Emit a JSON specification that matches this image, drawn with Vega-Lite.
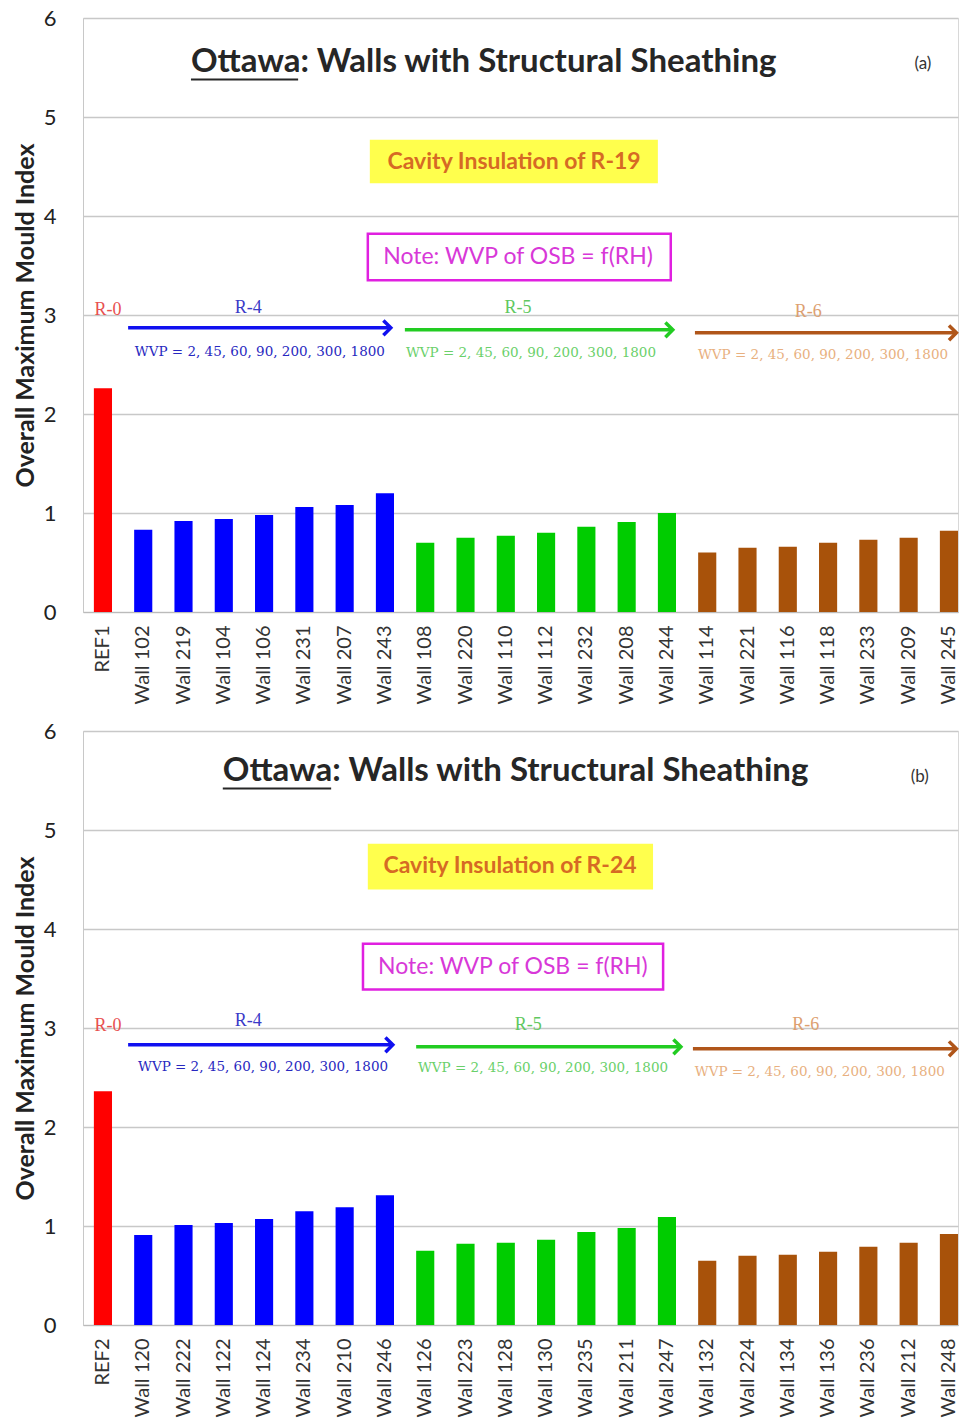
{
  "$schema": "https://vega.github.io/schema/vega-lite/v6.json",
  "background": "white",
  "padding": {"left": 12, "top": 6, "right": 0, "bottom": 0},
  "config": {
    "font": "Lato",
    "view": {"stroke": "#D8D8D8"},
    "axisY": {
      "grid": true, "gridColor": "#C8C8C8", "gridWidth": 1.5,
      "domain": true, "domainColor": "#C8C8C8", "ticks": false,
      "labelFontSize": 22, "labelColor": "#222", "labelPadding": 27,
      "titleFontSize": 25, "titleFontWeight": "bold", "titleColor": "#222", "titlePadding": 5
    },
    "axisX": {
      "labelAngle": -90, "labelFontSize": 20, "labelColor": "#333", "labelPadding": 13,
      "domainColor": "#BBBBBB", "ticks": false, "title": null, "grid": false
    }
  },
  "datasets": {
    "bars_a": [
      {"wall": "REF1", "mould": 2.26, "group": "R-0"},
      {"wall": "Wall 102", "mould": 0.83, "group": "R-4"},
      {"wall": "Wall 219", "mould": 0.92, "group": "R-4"},
      {"wall": "Wall 104", "mould": 0.94, "group": "R-4"},
      {"wall": "Wall 106", "mould": 0.98, "group": "R-4"},
      {"wall": "Wall 231", "mould": 1.06, "group": "R-4"},
      {"wall": "Wall 207", "mould": 1.08, "group": "R-4"},
      {"wall": "Wall 243", "mould": 1.2, "group": "R-4"},
      {"wall": "Wall 108", "mould": 0.7, "group": "R-5"},
      {"wall": "Wall 220", "mould": 0.75, "group": "R-5"},
      {"wall": "Wall 110", "mould": 0.77, "group": "R-5"},
      {"wall": "Wall 112", "mould": 0.8, "group": "R-5"},
      {"wall": "Wall 232", "mould": 0.86, "group": "R-5"},
      {"wall": "Wall 208", "mould": 0.91, "group": "R-5"},
      {"wall": "Wall 244", "mould": 1.0, "group": "R-5"},
      {"wall": "Wall 114", "mould": 0.6, "group": "R-6"},
      {"wall": "Wall 221", "mould": 0.65, "group": "R-6"},
      {"wall": "Wall 116", "mould": 0.66, "group": "R-6"},
      {"wall": "Wall 118", "mould": 0.7, "group": "R-6"},
      {"wall": "Wall 233", "mould": 0.73, "group": "R-6"},
      {"wall": "Wall 209", "mould": 0.75, "group": "R-6"},
      {"wall": "Wall 245", "mould": 0.82, "group": "R-6"}
    ],
    "bars_b": [
      {"wall": "REF2", "mould": 2.36, "group": "R-0"},
      {"wall": "Wall 120", "mould": 0.91, "group": "R-4"},
      {"wall": "Wall 222", "mould": 1.01, "group": "R-4"},
      {"wall": "Wall 122", "mould": 1.03, "group": "R-4"},
      {"wall": "Wall 124", "mould": 1.07, "group": "R-4"},
      {"wall": "Wall 234", "mould": 1.15, "group": "R-4"},
      {"wall": "Wall 210", "mould": 1.19, "group": "R-4"},
      {"wall": "Wall 246", "mould": 1.31, "group": "R-4"},
      {"wall": "Wall 126", "mould": 0.75, "group": "R-5"},
      {"wall": "Wall 223", "mould": 0.82, "group": "R-5"},
      {"wall": "Wall 128", "mould": 0.83, "group": "R-5"},
      {"wall": "Wall 130", "mould": 0.86, "group": "R-5"},
      {"wall": "Wall 235", "mould": 0.94, "group": "R-5"},
      {"wall": "Wall 211", "mould": 0.98, "group": "R-5"},
      {"wall": "Wall 247", "mould": 1.09, "group": "R-5"},
      {"wall": "Wall 132", "mould": 0.65, "group": "R-6"},
      {"wall": "Wall 224", "mould": 0.7, "group": "R-6"},
      {"wall": "Wall 134", "mould": 0.71, "group": "R-6"},
      {"wall": "Wall 136", "mould": 0.74, "group": "R-6"},
      {"wall": "Wall 236", "mould": 0.79, "group": "R-6"},
      {"wall": "Wall 212", "mould": 0.83, "group": "R-6"},
      {"wall": "Wall 248", "mould": 0.92, "group": "R-6"}
    ],
    "title_a": [{"x": 2.68, "y": 5.56, "label": "Ottawa: Walls with Structural Sheathing"}],
    "under_a": [{"x": 2.68, "x2": 5.34, "y": 5.38}],
    "tag_a": [{"x": 20.85, "y": 5.54, "label": "(a)"}],
    "yel_a": [{"x": 7.12, "x2": 14.27, "y": 4.33, "y2": 4.77, "xc": 10.7, "yc": 4.55, "label": "Cavity Insulation of R-19"}],
    "mag_a": [{"x": 7.07, "x2": 14.59, "y": 3.35, "y2": 3.82, "xc": 10.8, "yc": 3.59, "label": "Note: WVP of OSB = f(RH)"}],
    "arrows_a": [
      {"series": "R-4", "x": 1.12, "x2": 7.64, "y": 2.87},
      {"series": "R-5", "x": 7.99, "x2": 14.64, "y": 2.85},
      {"series": "R-6", "x": 15.19, "x2": 21.68, "y": 2.82}
    ],
    "rlab_a": [
      {"series": "R-0", "label": "R-0", "x": 0.62, "y": 3.05},
      {"series": "R-4", "label": "R-4", "x": 4.1, "y": 3.07},
      {"series": "R-5", "label": "R-5", "x": 10.8, "y": 3.07},
      {"series": "R-6", "label": "R-6", "x": 18.0, "y": 3.03}
    ],
    "wvp_a": [
      {"series": "R-4", "label": "WVP = 2, 45, 60, 90, 200, 300, 1800", "x": 4.39, "y": 2.63},
      {"series": "R-5", "label": "WVP = 2, 45, 60, 90, 200, 300, 1800", "x": 11.12, "y": 2.62},
      {"series": "R-6", "label": "WVP = 2, 45, 60, 90, 200, 300, 1800", "x": 18.37, "y": 2.6}
    ],
    "title_b": [{"x": 3.47, "y": 5.6, "label": "Ottawa: Walls with Structural Sheathing"}],
    "under_b": [{"x": 3.47, "x2": 6.16, "y": 5.42}],
    "tag_b": [{"x": 20.77, "y": 5.54, "label": "(b)"}],
    "yel_b": [{"x": 7.07, "x2": 14.15, "y": 4.4, "y2": 4.86, "xc": 10.6, "yc": 4.64, "label": "Cavity Insulation of R-24"}],
    "mag_b": [{"x": 6.95, "x2": 14.4, "y": 3.39, "y2": 3.85, "xc": 10.67, "yc": 3.62, "label": "Note: WVP of OSB = f(RH)"}],
    "arrows_b": [
      {"series": "R-4", "x": 1.12, "x2": 7.69, "y": 2.83},
      {"series": "R-5", "x": 8.27, "x2": 14.84, "y": 2.81},
      {"series": "R-6", "x": 15.14, "x2": 21.68, "y": 2.79}
    ],
    "rlab_b": [
      {"series": "R-0", "label": "R-0", "x": 0.62, "y": 3.02},
      {"series": "R-4", "label": "R-4", "x": 4.1, "y": 3.07},
      {"series": "R-5", "label": "R-5", "x": 11.05, "y": 3.03},
      {"series": "R-6", "label": "R-6", "x": 17.94, "y": 3.03}
    ],
    "wvp_b": [
      {"series": "R-4", "label": "WVP = 2, 45, 60, 90, 200, 300, 1800", "x": 4.47, "y": 2.61},
      {"series": "R-5", "label": "WVP = 2, 45, 60, 90, 200, 300, 1800", "x": 11.42, "y": 2.6},
      {"series": "R-6", "label": "WVP = 2, 45, 60, 90, 200, 300, 1800", "x": 18.29, "y": 2.56}
    ]
  },
  "spacing": 14,
  "vconcat": [
    {
      "width": 875, "height": 594,
      "resolve": {"scale": {"x": "independent", "color": "independent"}},
      "layer": [
        {
          "data": {"name": "bars_a"},
          "mark": {"type": "bar"},
          "encoding": {
            "x": {"field": "wall", "type": "nominal", "sort": null, "scale": {"paddingInner": 0.55, "paddingOuter": 0.135, "align": 1}},
            "y": {"field": "mould", "type": "quantitative", "scale": {"domain": [0, 6], "nice": false}, "axis": {"title": "Overall Maximum Mould Index", "values": [0, 1, 2, 3, 4, 5, 6], "format": "d"}},
            "color": {"field": "group", "type": "nominal", "legend": null, "scale": {"domain": ["R-0", "R-4", "R-5", "R-6"], "range": ["#FF0000", "#0000FF", "#00CC00", "#A8520A"]}}
          }
        },
        {
          "data": {"name": "yel_a"},
          "mark": {"type": "rect", "fill": "#FFFF3A", "opacity": 0.9},
          "encoding": {
            "x": {"field": "x", "type": "quantitative", "scale": {"domain": [0, 21.72], "nice": false, "zero": false}, "axis": null},
            "x2": {"field": "x2"},
            "y": {"field": "y", "type": "quantitative"},
            "y2": {"field": "y2"}
          }
        },
        {
          "data": {"name": "yel_a"},
          "mark": {"type": "text", "fontSize": 23, "fontWeight": "bold", "color": "#D66A24", "align": "center", "baseline": "middle"},
          "encoding": {
            "x": {"field": "xc", "type": "quantitative", "scale": {"domain": [0, 21.72], "nice": false, "zero": false}, "axis": null},
            "y": {"field": "yc", "type": "quantitative"},
            "text": {"field": "label"}
          }
        },
        {
          "data": {"name": "mag_a"},
          "mark": {"type": "rect", "fill": null, "stroke": "#E020E0", "strokeWidth": 2.5},
          "encoding": {
            "x": {"field": "x", "type": "quantitative", "scale": {"domain": [0, 21.72], "nice": false, "zero": false}, "axis": null},
            "x2": {"field": "x2"},
            "y": {"field": "y", "type": "quantitative"},
            "y2": {"field": "y2"}
          }
        },
        {
          "data": {"name": "mag_a"},
          "mark": {"type": "text", "fontSize": 23, "color": "#D838D8", "align": "center", "baseline": "middle"},
          "encoding": {
            "x": {"field": "xc", "type": "quantitative", "scale": {"domain": [0, 21.72], "nice": false, "zero": false}, "axis": null},
            "y": {"field": "yc", "type": "quantitative"},
            "text": {"field": "label"}
          }
        },
        {
          "data": {"name": "title_a"},
          "mark": {"type": "text", "fontSize": 33, "fontWeight": "bold", "color": "#262626", "align": "left", "baseline": "middle"},
          "encoding": {
            "x": {"field": "x", "type": "quantitative", "scale": {"domain": [0, 21.72], "nice": false, "zero": false}, "axis": null},
            "y": {"field": "y", "type": "quantitative"},
            "text": {"field": "label"}
          }
        },
        {
          "data": {"name": "under_a"},
          "mark": {"type": "rule", "color": "#262626", "strokeWidth": 2},
          "encoding": {
            "x": {"field": "x", "type": "quantitative", "scale": {"domain": [0, 21.72], "nice": false, "zero": false}, "axis": null},
            "x2": {"field": "x2"},
            "y": {"field": "y", "type": "quantitative"}
          }
        },
        {
          "data": {"name": "tag_a"},
          "mark": {"type": "text", "fontSize": 17, "color": "#333", "align": "center", "baseline": "middle"},
          "encoding": {
            "x": {"field": "x", "type": "quantitative", "scale": {"domain": [0, 21.72], "nice": false, "zero": false}, "axis": null},
            "y": {"field": "y", "type": "quantitative"},
            "text": {"field": "label"}
          }
        },
        {
          "data": {"name": "arrows_a"},
          "mark": {"type": "rule", "strokeWidth": 3.5},
          "encoding": {
            "x": {"field": "x", "type": "quantitative", "scale": {"domain": [0, 21.72], "nice": false, "zero": false}, "axis": null},
            "x2": {"field": "x2"},
            "y": {"field": "y", "type": "quantitative"},
            "color": {"field": "series", "type": "nominal", "legend": null, "scale": {"domain": ["R-4", "R-5", "R-6"], "range": ["#1010F0", "#22CC22", "#B0561A"]}}
          }
        },
        {
          "data": {"name": "arrows_a"},
          "mark": {"type": "point", "shape": "M-1,-1L0,0L-1,1", "size": 220, "strokeWidth": 3.5, "filled": false, "opacity": 1},
          "encoding": {
            "x": {"field": "x2", "type": "quantitative", "scale": {"domain": [0, 21.72], "nice": false, "zero": false}, "axis": null},
            "y": {"field": "y", "type": "quantitative"},
            "color": {"field": "series", "type": "nominal", "legend": null, "scale": {"domain": ["R-4", "R-5", "R-6"], "range": ["#1010F0", "#22CC22", "#B0561A"]}}
          }
        },
        {
          "data": {"name": "rlab_a"},
          "mark": {"type": "text", "font": "Liberation Serif", "fontSize": 18, "align": "center", "baseline": "middle"},
          "encoding": {
            "x": {"field": "x", "type": "quantitative", "scale": {"domain": [0, 21.72], "nice": false, "zero": false}, "axis": null},
            "y": {"field": "y", "type": "quantitative"},
            "text": {"field": "label"},
            "color": {"field": "series", "type": "nominal", "legend": null, "scale": {"domain": ["R-0", "R-4", "R-5", "R-6"], "range": ["#E85050", "#3A3AC8", "#60C860", "#DDA070"]}}
          }
        },
        {
          "data": {"name": "wvp_a"},
          "mark": {"type": "text", "font": "DejaVu Serif", "fontSize": 13.5, "align": "center", "baseline": "middle"},
          "encoding": {
            "x": {"field": "x", "type": "quantitative", "scale": {"domain": [0, 21.72], "nice": false, "zero": false}, "axis": null},
            "y": {"field": "y", "type": "quantitative"},
            "text": {"field": "label"},
            "color": {"field": "series", "type": "nominal", "legend": null, "scale": {"domain": ["R-4", "R-5", "R-6"], "range": ["#2828C0", "#6AD06A", "#E8B080"]}}
          }
        }
      ]
    },
    {
      "width": 875, "height": 594,
      "resolve": {"scale": {"x": "independent", "color": "independent"}},
      "layer": [
        {
          "data": {"name": "bars_b"},
          "mark": {"type": "bar"},
          "encoding": {
            "x": {"field": "wall", "type": "nominal", "sort": null, "scale": {"paddingInner": 0.55, "paddingOuter": 0.135, "align": 1}},
            "y": {"field": "mould", "type": "quantitative", "scale": {"domain": [0, 6], "nice": false}, "axis": {"title": "Overall Maximum Mould Index", "values": [0, 1, 2, 3, 4, 5, 6], "format": "d"}},
            "color": {"field": "group", "type": "nominal", "legend": null, "scale": {"domain": ["R-0", "R-4", "R-5", "R-6"], "range": ["#FF0000", "#0000FF", "#00CC00", "#A8520A"]}}
          }
        },
        {
          "data": {"name": "yel_b"},
          "mark": {"type": "rect", "fill": "#FFFF3A", "opacity": 0.9},
          "encoding": {
            "x": {"field": "x", "type": "quantitative", "scale": {"domain": [0, 21.72], "nice": false, "zero": false}, "axis": null},
            "x2": {"field": "x2"},
            "y": {"field": "y", "type": "quantitative"},
            "y2": {"field": "y2"}
          }
        },
        {
          "data": {"name": "yel_b"},
          "mark": {"type": "text", "fontSize": 23, "fontWeight": "bold", "color": "#D66A24", "align": "center", "baseline": "middle"},
          "encoding": {
            "x": {"field": "xc", "type": "quantitative", "scale": {"domain": [0, 21.72], "nice": false, "zero": false}, "axis": null},
            "y": {"field": "yc", "type": "quantitative"},
            "text": {"field": "label"}
          }
        },
        {
          "data": {"name": "mag_b"},
          "mark": {"type": "rect", "fill": null, "stroke": "#E020E0", "strokeWidth": 2.5},
          "encoding": {
            "x": {"field": "x", "type": "quantitative", "scale": {"domain": [0, 21.72], "nice": false, "zero": false}, "axis": null},
            "x2": {"field": "x2"},
            "y": {"field": "y", "type": "quantitative"},
            "y2": {"field": "y2"}
          }
        },
        {
          "data": {"name": "mag_b"},
          "mark": {"type": "text", "fontSize": 23, "color": "#D838D8", "align": "center", "baseline": "middle"},
          "encoding": {
            "x": {"field": "xc", "type": "quantitative", "scale": {"domain": [0, 21.72], "nice": false, "zero": false}, "axis": null},
            "y": {"field": "yc", "type": "quantitative"},
            "text": {"field": "label"}
          }
        },
        {
          "data": {"name": "title_b"},
          "mark": {"type": "text", "fontSize": 33, "fontWeight": "bold", "color": "#262626", "align": "left", "baseline": "middle"},
          "encoding": {
            "x": {"field": "x", "type": "quantitative", "scale": {"domain": [0, 21.72], "nice": false, "zero": false}, "axis": null},
            "y": {"field": "y", "type": "quantitative"},
            "text": {"field": "label"}
          }
        },
        {
          "data": {"name": "under_b"},
          "mark": {"type": "rule", "color": "#262626", "strokeWidth": 2},
          "encoding": {
            "x": {"field": "x", "type": "quantitative", "scale": {"domain": [0, 21.72], "nice": false, "zero": false}, "axis": null},
            "x2": {"field": "x2"},
            "y": {"field": "y", "type": "quantitative"}
          }
        },
        {
          "data": {"name": "tag_b"},
          "mark": {"type": "text", "fontSize": 17, "color": "#333", "align": "center", "baseline": "middle"},
          "encoding": {
            "x": {"field": "x", "type": "quantitative", "scale": {"domain": [0, 21.72], "nice": false, "zero": false}, "axis": null},
            "y": {"field": "y", "type": "quantitative"},
            "text": {"field": "label"}
          }
        },
        {
          "data": {"name": "arrows_b"},
          "mark": {"type": "rule", "strokeWidth": 3.5},
          "encoding": {
            "x": {"field": "x", "type": "quantitative", "scale": {"domain": [0, 21.72], "nice": false, "zero": false}, "axis": null},
            "x2": {"field": "x2"},
            "y": {"field": "y", "type": "quantitative"},
            "color": {"field": "series", "type": "nominal", "legend": null, "scale": {"domain": ["R-4", "R-5", "R-6"], "range": ["#1010F0", "#22CC22", "#B0561A"]}}
          }
        },
        {
          "data": {"name": "arrows_b"},
          "mark": {"type": "point", "shape": "M-1,-1L0,0L-1,1", "size": 220, "strokeWidth": 3.5, "filled": false, "opacity": 1},
          "encoding": {
            "x": {"field": "x2", "type": "quantitative", "scale": {"domain": [0, 21.72], "nice": false, "zero": false}, "axis": null},
            "y": {"field": "y", "type": "quantitative"},
            "color": {"field": "series", "type": "nominal", "legend": null, "scale": {"domain": ["R-4", "R-5", "R-6"], "range": ["#1010F0", "#22CC22", "#B0561A"]}}
          }
        },
        {
          "data": {"name": "rlab_b"},
          "mark": {"type": "text", "font": "Liberation Serif", "fontSize": 18, "align": "center", "baseline": "middle"},
          "encoding": {
            "x": {"field": "x", "type": "quantitative", "scale": {"domain": [0, 21.72], "nice": false, "zero": false}, "axis": null},
            "y": {"field": "y", "type": "quantitative"},
            "text": {"field": "label"},
            "color": {"field": "series", "type": "nominal", "legend": null, "scale": {"domain": ["R-0", "R-4", "R-5", "R-6"], "range": ["#E85050", "#3A3AC8", "#60C860", "#DDA070"]}}
          }
        },
        {
          "data": {"name": "wvp_b"},
          "mark": {"type": "text", "font": "DejaVu Serif", "fontSize": 13.5, "align": "center", "baseline": "middle"},
          "encoding": {
            "x": {"field": "x", "type": "quantitative", "scale": {"domain": [0, 21.72], "nice": false, "zero": false}, "axis": null},
            "y": {"field": "y", "type": "quantitative"},
            "text": {"field": "label"},
            "color": {"field": "series", "type": "nominal", "legend": null, "scale": {"domain": ["R-4", "R-5", "R-6"], "range": ["#2828C0", "#6AD06A", "#E8B080"]}}
          }
        }
      ]
    }
  ]
}
